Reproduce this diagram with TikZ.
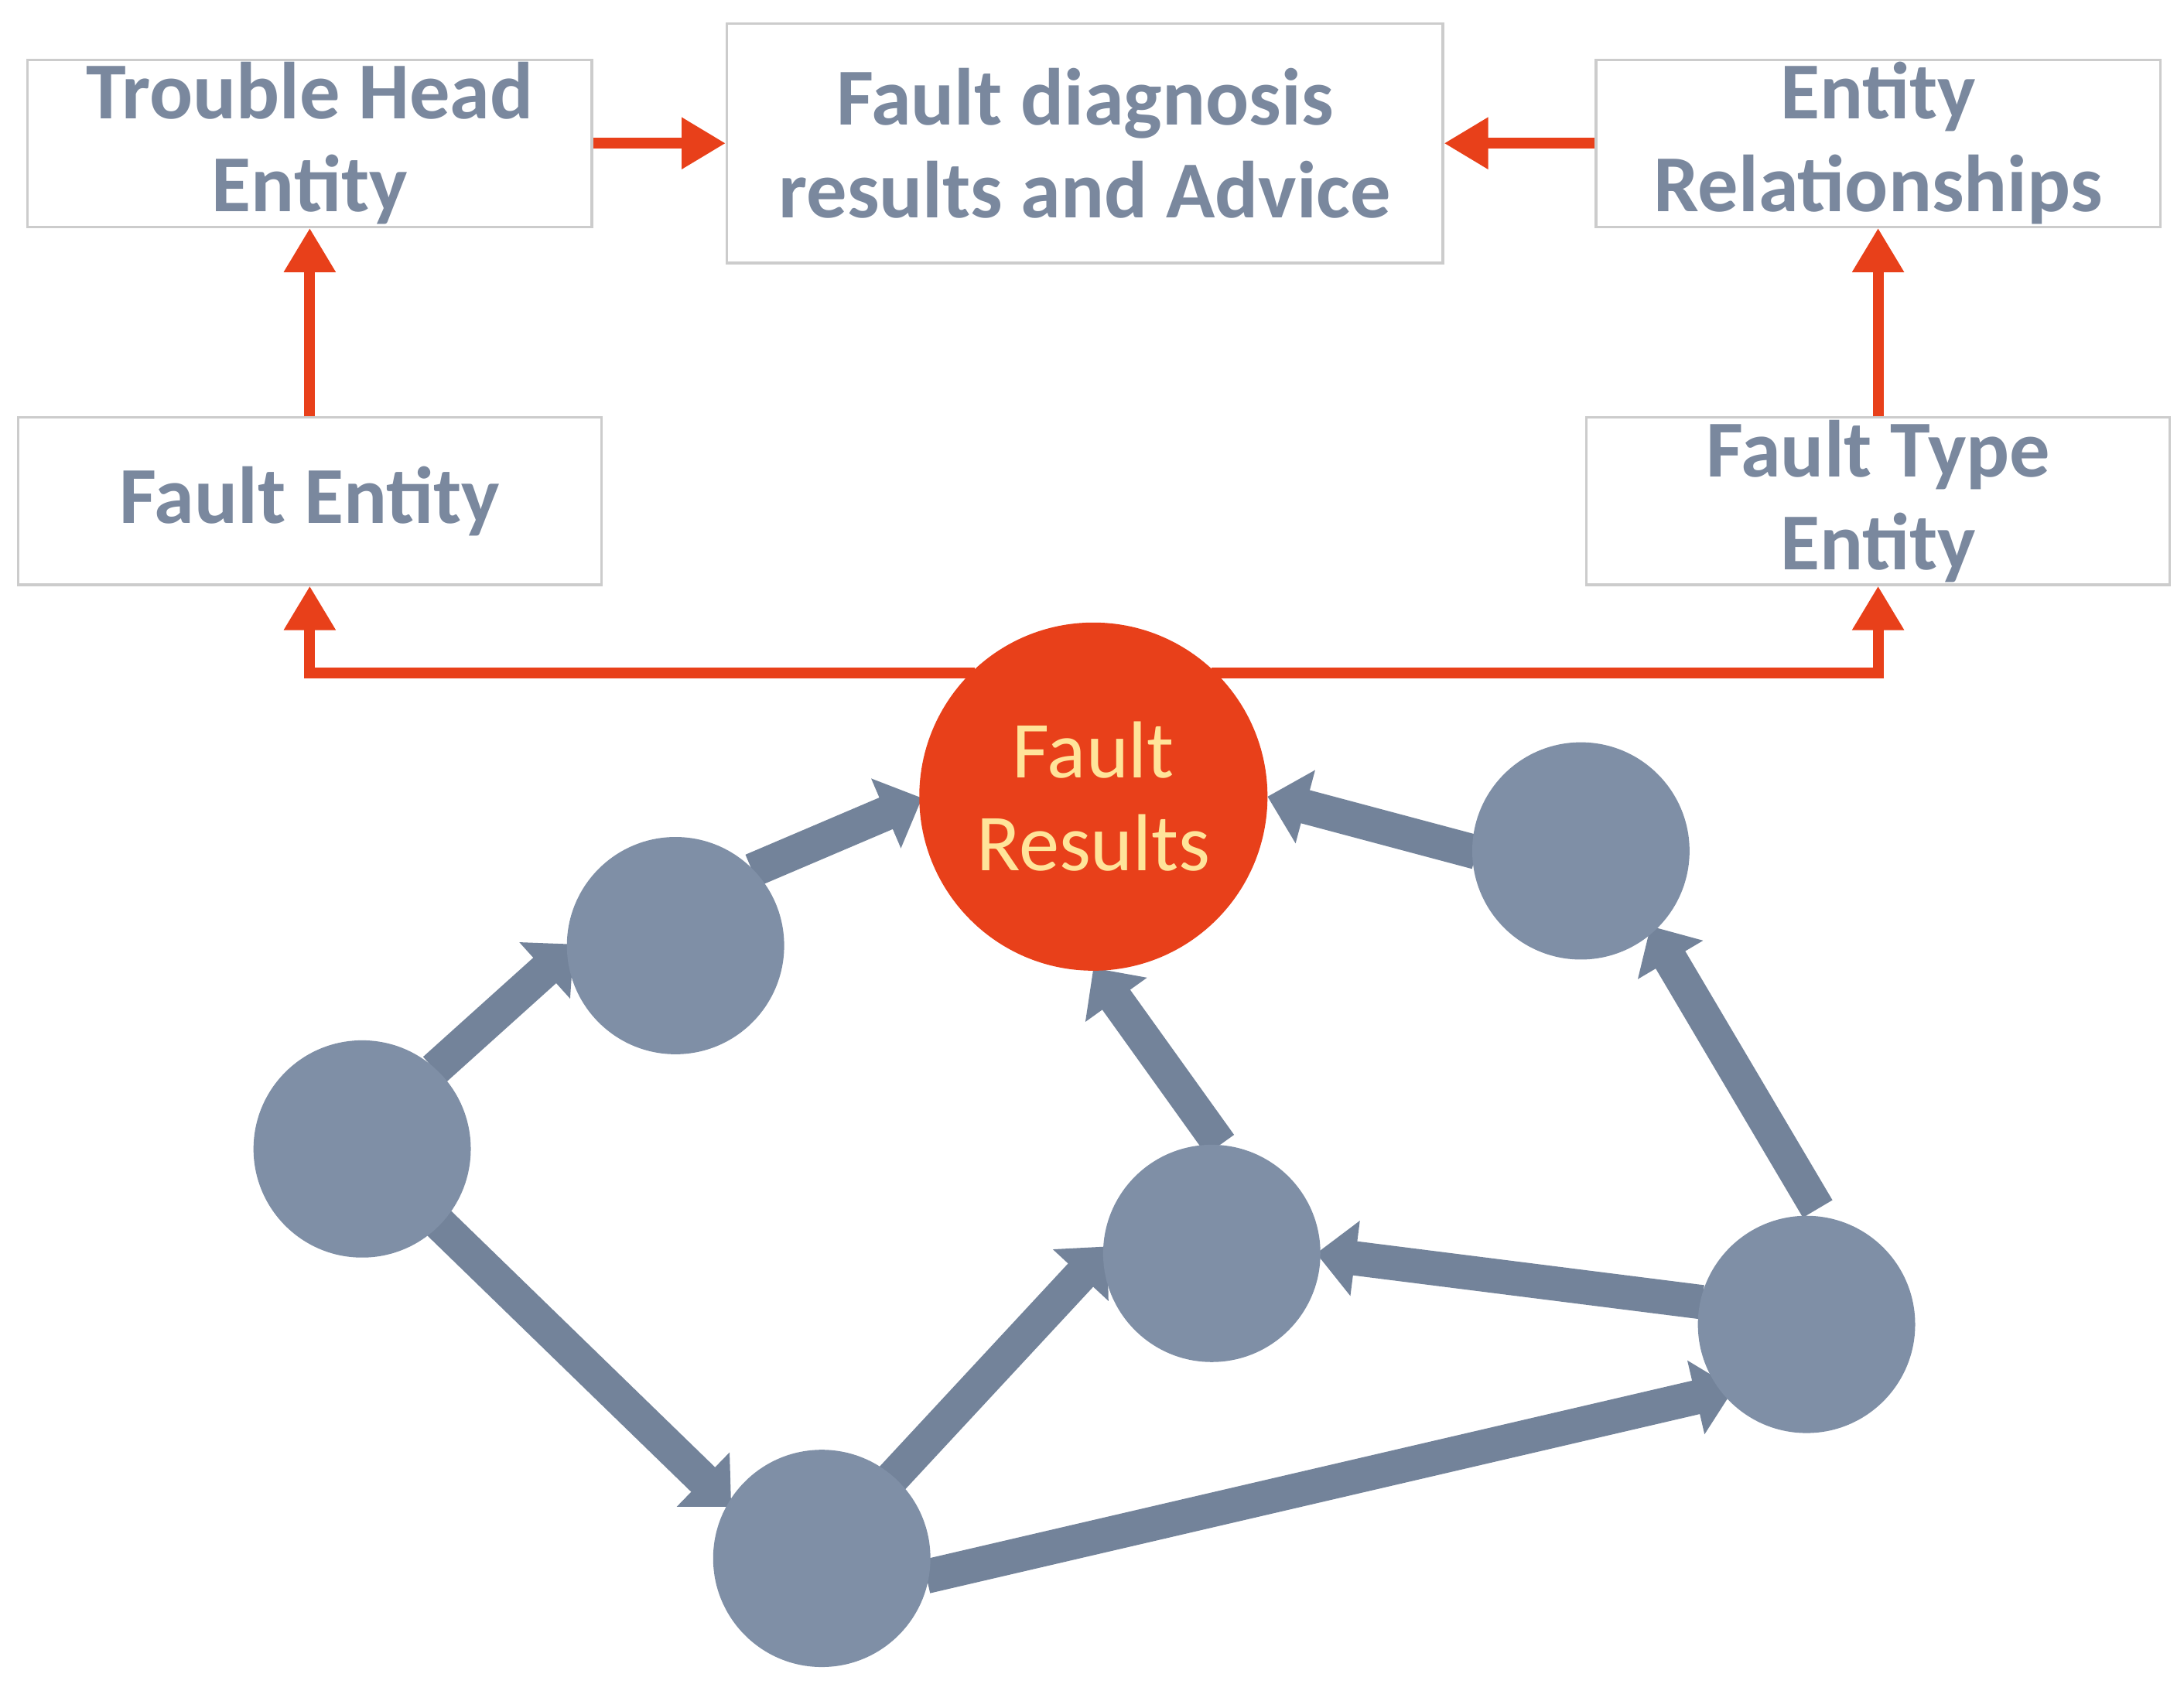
\documentclass[tikz,border=0pt]{standalone}
\usepackage{fontspec}
\setmainfont{Carlito}
\usetikzlibrary{arrows.meta}
\definecolor{tx}{HTML}{7A889E}
\definecolor{nd}{HTML}{7F8FA6}
\definecolor{ed}{HTML}{73839A}
\definecolor{rd}{HTML}{E8401A}
\definecolor{yl}{HTML}{FFE49A}
\begin{document}
\begin{tikzpicture}[x=0.01cm,y=-0.01cm,
 box/.style={draw=black!20,line width=0.5pt,align=center,font=\fontsize{16.5}{19}\selectfont\bfseries,text=tx,inner sep=0pt,anchor=north west},
 nd/.style={circle,fill=nd,minimum size=156*0.01cm,inner sep=0pt},
 ra/.style={draw=rd,line width=2.2pt,-{Triangle[length=9pt,width=10pt]}},
 ga/.style={draw=ed,line width=7pt,-{Triangle[length=8pt,width=15pt]}}]
\useasboundingbox (0,0) rectangle (1568,1209);
\node[box,minimum width=405*0.01cm,minimum height=120*0.01cm] (th) at (19,42) {Trouble Head\\Entity};
\node[box,minimum width=514*0.01cm,minimum height=172*0.01cm] (fd) at (521,16) {Fault diagnosis\\results and Advice};
\node[box,minimum width=405*0.01cm,minimum height=120*0.01cm] (er) at (1145,42) {Entity\\Relationships};
\node[box,minimum width=419*0.01cm,minimum height=120*0.01cm] (fe) at (12,299) {Fault Entity};
\node[box,minimum width=419*0.01cm,minimum height=120*0.01cm] (ft) at (1138,299) {Fault Type\\Entity};
\coordinate (a1) at (312,768); \coordinate (b1) at (412,678);
\coordinate (b2) at (540,625); \coordinate (r1) at (662,573);
\coordinate (d1) at (1060,612); \coordinate (r2) at (910,572);
\coordinate (c1) at (876,822); \coordinate (r3) at (785,695);
\coordinate (e1) at (1305,868); \coordinate (d2) at (1185,665);
\coordinate (e2) at (1222,935); \coordinate (c2) at (945,900);
\coordinate (a2) at (315,878); \coordinate (f1) at (525,1082);
\coordinate (f2) at (640,1062); \coordinate (c3) at (795,895);
\coordinate (f3) at (665,1132); \coordinate (e3) at (1245,997);
\draw[ga] (a1) -- (b1);
\draw[ga] (a2) -- (f1);
\draw[ga] (f2) -- (c3);
\draw[ga] (f3) -- (e3);
\draw[ga] (e2) -- (c2);
\draw[ga] (e1) -- (d2);
\draw[ga] (b2) -- (r1);
\draw[ga] (d1) -- (r2);
\draw[ga] (c1) -- (r3);
\node[nd] (a) at (260,825) {};
\node[nd] (b) at (485,679) {};
\node[nd] (c) at (870,900) {};
\node[nd] (d) at (1135,611) {};
\node[nd] (e) at (1297,951) {};
\node[nd] (f) at (590,1119) {};
\node[circle,fill=rd,minimum size=250*0.01cm,inner sep=0pt,align=center,text=yl,font=\fontsize{16.5}{19}\selectfont] (fr) at (785,572) {Fault\\Results};
\coordinate (jl) at (700,483);
\coordinate (jr) at (870,483);
\draw[ra] (th.east) -- (fd.west);
\draw[ra] (er.west) -- (fd.east);
\draw[ra] (fe.north) -- (th.south);
\draw[ra] (ft.north) -- (er.south);
\draw[ra] (jl) -| (fe.south);
\draw[ra] (jr) -| (ft.south);
\end{tikzpicture}
\end{document}
